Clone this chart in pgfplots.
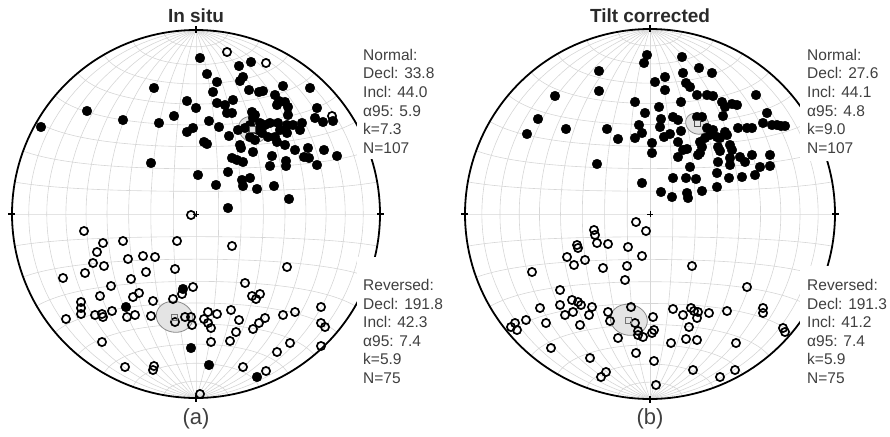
\documentclass[border=0pt]{standalone}
\usepackage{fontspec}
\setmainfont{Liberation Sans}
\usepackage{pgfplots}
\pgfplotsset{compat=1.18}
\definecolor{txt}{HTML}{404040}
\definecolor{ttl}{HTML}{2A2A2A}
\definecolor{gridc}{HTML}{D6D6D6}
\definecolor{ellf}{HTML}{E4E4E4}
\definecolor{elld}{HTML}{8A8A8A}
\tikzset{stat/.style={anchor=base west, inner sep=0pt, text=txt, font=\fontsize{15.5}{18}\selectfont}}

\newcommand\stereonet[3]{%
  \pgfplotsinvokeforeach{-80,-70,...,80}{%
    \addplot[gridc, line width=0.6pt, domain=-90:90, samples=61]
      ({#1+#3*cos(x)*sin(##1)/sqrt(1+cos(x)*cos(##1))},{#2-#3*sin(x)/sqrt(1+cos(x)*cos(##1))});
    \addplot[gridc, line width=0.6pt, domain=-90:90, samples=61]
      ({#1+#3*cos(##1)*sin(x)/sqrt(1+cos(##1)*cos(x))},{#2-#3*sin(##1)/sqrt(1+cos(##1)*cos(x))});
  }%
}
\newcommand\confcircle[6]{%
  \addplot[fill=ellf, draw=elld, line width=0.8pt, domain=0:360, samples=91]
   ({#1+#3*sqrt(1-abs(cZ(#4,#5,#6,x)))*cE(#4,#5,#6,x)/veclen(cN(#4,#5,#6,x),cE(#4,#5,#6,x))},
    {#2-#3*sqrt(1-abs(cZ(#4,#5,#6,x)))*cN(#4,#5,#6,x)/veclen(cN(#4,#5,#6,x),cE(#4,#5,#6,x))});
}
\newcommand\primcircle[3]{%
  \addplot[black, line width=1.8pt, domain=0:360, samples=181] ({#1+#3*cos(x)},{#2+#3*sin(x)});
}

\begin{document}
\begin{tikzpicture}
\begin{axis}[name=ax, scale only axis, width=890pt, height=436pt,
  xmin=0, xmax=890, ymin=0, ymax=436, y dir=reverse, hide axis, clip=false,
  declare function={
    cN(\D,\I,\a,\t)=cos(\a)*cos(\I)*cos(\D)+sin(\a)*(-cos(\t)*sin(\I)*cos(\D)-sin(\t)*sin(\D));
    cE(\D,\I,\a,\t)=cos(\a)*cos(\I)*sin(\D)+sin(\a)*(-cos(\t)*sin(\I)*sin(\D)+sin(\t)*cos(\D));
    cZ(\D,\I,\a,\t)=cos(\a)*sin(\I)+sin(\a)*cos(\t)*cos(\I);
  },
  filled/.style={only marks, mark=*, mark size=4.9pt, mark options={fill=black, draw=black, line width=0.3pt}},
  open/.style={only marks, mark=o, mark size=4.1pt, mark options={draw=black, line width=1.7pt}},
]
% ---------- grids ----------
\stereonet{196}{214}{184}
\stereonet{650}{214}{185}
% ---------- confidence circles ----------
\confcircle{196}{214}{184}{33.8}{44.0}{5.9}
\confcircle{196}{214}{184}{191.8}{-42.3}{7.4}
\confcircle{650}{214}{185}{27.6}{44.1}{4.8}
\confcircle{650}{214}{185}{191.3}{-41.2}{7.4}
% ---------- primitive circles and ticks ----------
\primcircle{196}{214}{184}
\primcircle{650}{214}{185}
\addplot[black, line width=1.2pt] coordinates {(196,26) (196,33)};
\addplot[black, line width=1.2pt] coordinates {(196,395) (196,402)};
\addplot[black, line width=1.2pt] coordinates {(8,214) (15,214)};
\addplot[black, line width=1.2pt] coordinates {(377,214) (384,214)};
\addplot[black, line width=1.2pt] coordinates {(650,25) (650,32)};
\addplot[black, line width=1.2pt] coordinates {(650,396) (650,403)};
\addplot[black, line width=1.2pt] coordinates {(461,214) (468,214)};
\addplot[black, line width=1.2pt] coordinates {(832,214) (839,214)};
\addplot[only marks, mark=+, mark size=3pt, mark options={black, line width=0.8pt}] coordinates {(196,214) (650,214)};

% ---------- In situ: filled (lower hemisphere) ----------
\addplot[filled] table[row sep=\\] {x y\\
200 58\\ 41 127\\ 87 111\\ 154 88\\ 123 120\\ 151 163\\ 159 123\\ 174 116\\ 207 74\\ 239 66\\
251 62\\ 243 77\\ 183 289\\ 126 307\\ 191 348\\ 209 365\\ 257 377\\
217 82\\ 240 81\\ 249 90\\ 259 92\\ 263 91\\ 275 95\\ 283 86\\ 310 88\\ 187 101\\ 213 92\\
217 103\\ 225 105\\ 233 100\\ 227 113\\ 232 113\\ 196 108\\ 209 121\\ 219 127\\ 187 132\\ 193 128\\
204 142\\ 207 144\\ 229 136\\ 238 130\\ 252 112\\ 253 118\\ 260 123\\ 265 125\\ 270 123\\ 278 123\\
287 125\\ 293 125\\ 302 123\\ 250 137\\ 255 140\\ 262 133\\ 268 137\\ 275 137\\ 280 130\\ 287 133\\
315 118\\ 323 122\\ 317 108\\ 295 150\\ 308 148\\ 304 157\\ 309 158\\ 317 165\\ 324 150\\ 337 156\\
272 156\\ 270 166\\ 286 161\\ 286 166\\ 240 145\\ 253 152\\ 232 158\\ 237 160\\ 243 162\\ 228 172\\
198 175\\ 216 185\\ 242 180\\ 243 186\\ 250 178\\ 257 189\\ 274 186\\ 289 199\\ 228 208\\
245 128\\ 250 125\\ 288 107\\ 288 115\\ 277 105\\ 279 101\\
258 130\\ 277 142\\ 285 145\\ 300 130\\ 285 102\\ 241 148\\ 333 121\\ 255 115\\
};
% ---------- In situ: open (upper hemisphere) ----------
\addplot[open] table[row sep=\\] {x y\\
227 52\\ 266 63\\ 332 116\\ 191 215\\
84 231\\ 103 243\\ 123 241\\ 177 241\\ 97 252\\ 93 263\\ 104 266\\ 128 259\\ 143 256\\ 155 257\\
85 273\\ 63 278\\ 146 272\\ 131 279\\ 175 269\\ 111 286\\ 100 296\\ 133 297\\ 139 293\\ 153 301\\
173 299\\ 182 294\\ 193 287\\ 81 302\\ 81 308\\ 81 314\\ 66 319\\ 95 315\\ 102 314\\ 103 317\\
112 311\\ 127 317\\ 135 315\\ 151 316\\ 175 322\\ 185 317\\ 191 317\\ 192 325\\ 102 342\\ 125 367\\
154 366\\ 153 370\\ 200 394\\
232 246\\ 287 267\\ 245 283\\ 252 296\\ 256 299\\ 260 294\\ 208 312\\ 217 314\\ 204 319\\ 208 323\\
211 328\\ 231 310\\ 239 320\\ 253 329\\ 259 323\\ 265 318\\ 283 315\\ 295 312\\ 321 307\\ 321 323\\
325 327\\ 236 332\\ 211 342\\ 230 341\\ 290 343\\ 321 346\\ 277 352\\ 243 367\\ 266 371\\
};

% ---------- Tilt corrected: filled ----------
\addplot[filled] table[row sep=\\] {x y\\
647 55\\ 644 63\\ 682 57\\ 699 68\\ 712 73\\ 599 71\\ 599 91\\ 555 96\\ 538 119\\ 527 134\\
566 129\\ 597 164\\ 665 77\\ 683 73\\ 781 126\\ 785 126\\
655 82\\ 665 90\\ 686 83\\ 690 87\\ 697 95\\ 707 95\\ 713 96\\ 756 95\\ 635 102\\ 659 107\\
681 102\\ 722 102\\ 725 107\\ 732 104\\ 737 105\\ 767 113\\ 645 113\\ 673 117\\ 678 120\\ 697 117\\
702 117\\ 661 119\\ 660 127\\ 723 116\\ 607 129\\ 639 125\\ 642 133\\ 635 138\\ 618 139\\ 681 131\\
670 134\\ 664 137\\ 707 128\\ 713 130\\ 710 135\\ 717 137\\ 725 132\\ 738 128\\ 747 128\\ 752 128\\
763 123\\ 772 125\\ 777 125\\ 652 143\\ 652 153\\ 678 142\\ 700 142\\ 702 147\\ 683 150\\ 687 149\\
678 157\\ 700 153\\ 718 147\\ 720 151\\ 730 145\\ 732 150\\ 718 162\\ 730 158\\ 730 165\\ 740 157\\
752 155\\ 745 162\\ 770 155\\ 770 166\\ 760 167\\ 690 167\\ 673 178\\ 686 178\\ 696 179\\ 717 173\\
729 178\\ 742 177\\ 755 175\\ 642 183\\ 661 192\\ 672 197\\ 687 193\\ 688 198\\ 702 191\\ 717 187\\
720 138\\ 705 138\\ 727 135\\ 698 155\\
};
% ---------- Tilt corrected: open ----------
\addplot[open] table[row sep=\\] {x y\\
636 222\\ 646 231\\ 594 230\\ 595 235\\ 597 243\\ 608 244\\ 577 245\\ 578 248\\ 628 247\\ 642 256\\
567 257\\ 585 260\\ 574 265\\ 603 268\\ 627 266\\ 625 280\\ 692 266\\ 532 272\\ 560 290\\ 572 300\\
578 302\\ 581 305\\ 573 312\\ 565 315\\ 560 305\\ 540 308\\ 592 307\\ 589 315\\ 608 312\\ 610 321\\
631 307\\ 618 338\\ 635 323\\ 638 331\\ 638 335\\ 643 337\\ 653 317\\ 654 330\\ 652 333\\ 673 309\\
683 315\\ 691 308\\ 694 311\\ 698 312\\ 709 313\\ 727 311\\ 763 308\\ 763 313\\ 689 327\\ 697 318\\
671 343\\ 686 339\\ 697 340\\ 736 343\\ 747 287\\ 783 328\\ 785 332\\ 526 320\\ 515 323\\ 517 330\\
511 327\\ 546 323\\ 580 325\\ 551 348\\ 590 358\\ 636 353\\ 654 361\\ 606 372\\ 601 377\\ 693 370\\
720 377\\ 735 370\\ 656 385\\
};
% ---------- mean directions ----------
\addplot[only marks, mark=square*, mark size=3pt, mark options={fill=ellf, draw=black!70, line width=0.8pt}]
  coordinates {(252.6,129.5) (697.3,123.6)};
\addplot[only marks, mark=square, mark size=3pt, mark options={draw=black!55, line width=0.8pt}]
  coordinates {(174.5,317.0) (628.8,320.0)};

% ---------- text backgrounds ----------
\fill[white] (axis cs:357,44) rectangle (axis cs:446,159);
\fill[white] (axis cs:357,257) rectangle (axis cs:446,392);
\fill[white] (axis cs:800,44) rectangle (axis cs:890,161);
\fill[white] (axis cs:800,266) rectangle (axis cs:890,392);

% ---------- titles and labels ----------
\node[anchor=base, inner sep=0pt, text=ttl, font=\bfseries\fontsize{19}{21}\selectfont] at (axis cs:196,23) {In situ};
\node[anchor=base, inner sep=0pt, text=ttl, font=\bfseries\fontsize{19}{21}\selectfont] at (axis cs:650,23) {Tilt corrected};
\node[inner sep=0pt, text=txt, font=\fontsize{22}{24}\selectfont] at (axis cs:196,419) {(a)};
\node[inner sep=0pt, text=txt, font=\fontsize{22}{24}\selectfont] at (axis cs:650,419) {(b)};

% ---------- statistics ----------
\node[stat] at (axis cs:363,60.0) {Normal:};
\node[stat] at (axis cs:363,78.7) {Decl: 33.8};
\node[stat] at (axis cs:363,97.4) {Incl: 44.0};
\node[stat] at (axis cs:363,116.1) {α95: 5.9};
\node[stat] at (axis cs:363,134.8) {k=7.3};
\node[stat] at (axis cs:363,153.5) {N=107};
\node[stat] at (axis cs:363,290.5) {Reversed:};
\node[stat] at (axis cs:363,309.1) {Decl: 191.8};
\node[stat] at (axis cs:363,327.7) {Incl: 42.3};
\node[stat] at (axis cs:363,346.3) {α95: 7.4};
\node[stat] at (axis cs:363,364.9) {k=5.9};
\node[stat] at (axis cs:363,383.5) {N=75};

\node[stat] at (axis cs:807,60.0) {Normal:};
\node[stat] at (axis cs:807,78.7) {Decl: 27.6};
\node[stat] at (axis cs:807,97.4) {Incl: 44.1};
\node[stat] at (axis cs:807,116.1) {α95: 4.8};
\node[stat] at (axis cs:807,134.8) {k=9.0};
\node[stat] at (axis cs:807,153.5) {N=107};
\node[stat] at (axis cs:807,290.5) {Reversed:};
\node[stat] at (axis cs:807,309.1) {Decl: 191.3};
\node[stat] at (axis cs:807,327.7) {Incl: 41.2};
\node[stat] at (axis cs:807,346.3) {α95: 7.4};
\node[stat] at (axis cs:807,364.9) {k=5.9};
\node[stat] at (axis cs:807,383.5) {N=75};
\end{axis}
\pgfresetboundingbox
\useasboundingbox (ax.south west) rectangle (ax.north east);
\end{tikzpicture}
\end{document}
